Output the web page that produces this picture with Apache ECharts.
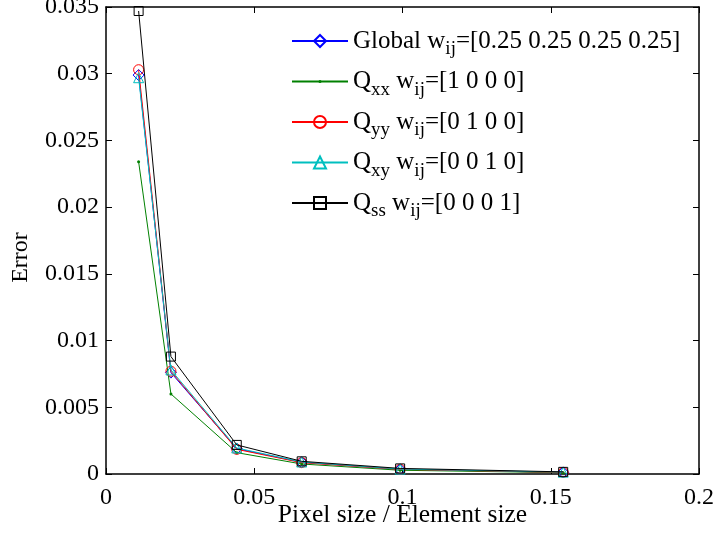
<!DOCTYPE html>
<html>
<head>
<meta charset="utf-8">
<script src="https://cdn.jsdelivr.net/npm/echarts@6/dist/echarts.min.js"></script>
<style>
  html, body { margin: 0; padding: 0; background: #fff; }
  #chart { width: 716px; height: 539px; }
</style>
</head>
<body>
<div id="chart"></div>
<script>
// Pixel size / element size ratios at which the error was evaluated
const pixelRatio = [0.011, 0.0219, 0.0441, 0.066, 0.0992, 0.1542];

// Error for each weighting of the strain components
const globalErr = [0.0299, 0.0076, 0.0019, 0.00088, 0.00035, 0.00012];
const qxxErr    = [0.0234, 0.0060, 0.0016, 0.00075, 0.00028, 0.00010];
const qyyErr    = [0.0303, 0.0077, 0.00185, 0.00085, 0.00035, 0.00012];
const qxyErr    = [0.0297, 0.0078, 0.00195, 0.00090, 0.00037, 0.00014];
const qssErr    = [0.0347, 0.0088, 0.00218, 0.00095, 0.00042, 0.00016];

// Legend labels ({s|..} marks a subscript)
const seriesNames = [
  'Global w{s|ij}=[0.25 0.25 0.25 0.25]',
  'Q{s|xx} w{s|ij}=[1 0 0 0]',
  'Q{s|yy} w{s|ij}=[0 1 0 0]',
  'Q{s|xy} w{s|ij}=[0 0 1 0]',
  'Q{s|ss} w{s|ij}=[0 0 0 1]'
];

// Axis ticks
const xTicks = { min: 0, max: 0.2, interval: 0.05 };
const yTicks = { min: 0, max: 0.035, interval: 0.005 };

const FONT = 'Liberation Serif';

// small filled dot inside a larger invisible box, so it stays small when scaled
const dotPath = 'path://M0 0M12 12M6 4.5A1.5 1.5 0 1 1 6 7.5A1.5 1.5 0 1 1 6 4.5Z';

const styles = [
  { color: '#0000ff', symbol: 'diamond', size: 11, hollow: true },
  { color: '#008000', symbol: dotPath, size: 12, hollow: false },
  { color: '#ff0000', symbol: 'circle', size: 10, hollow: true },
  { color: '#00bfbf', symbol: 'triangle', size: 10, hollow: true },
  { color: '#000000', symbol: 'rect', size: 9, hollow: true }
];

const values = [globalErr, qxxErr, qyyErr, qxyErr, qssErr];

const series = values.map((vals, k) => {
  const st = styles[k];
  return {
    name: seriesNames[k],
    type: 'line',
    data: pixelRatio.map((x, i) => [x, vals[i]]),
    symbol: st.symbol,
    symbolSize: st.size,
    showAllSymbol: true,
    lineStyle: { color: st.color, width: 1 },
    itemStyle: st.hollow
      ? { color: 'rgba(0,0,0,0)', borderColor: st.color, borderWidth: 1 }
      : { color: st.color, borderWidth: 0 },
    emphasis: { disabled: true },
    z: 2 + k
  };
});

const axisCommon = {
  axisLine: { show: true, onZero: false, lineStyle: { color: '#000', width: 1.5 } },
  axisTick: { show: true, inside: true, length: 6, lineStyle: { color: '#000', width: 1 } },
  splitLine: { show: false },
  nameMoveOverlap: false
};

const chart = echarts.init(document.getElementById('chart'), null, { renderer: 'canvas' });
chart.setOption({
  animation: false,
  backgroundColor: '#fff',
  grid: { left: 106, right: 17, top: 7, bottom: 65, containLabel: false, outerBoundsMode: 'none' },
  legend: {
    orient: 'vertical',
    left: 286,
    top: 18,
    padding: 5,
    itemWidth: 56,
    itemHeight: 15,
    itemGap: 4.5,
    selectedMode: false,
    data: seriesNames,
    formatter: (name) => name,
    textStyle: {
      fontFamily: FONT,
      fontSize: 25,
      lineHeight: 30,
      color: '#000',
      rich: {
        s: { fontFamily: FONT, fontSize: 19, lineHeight: 30, padding: [17, 0, 0, 0], color: '#000' }
      }
    }
  },
  xAxis: [
    Object.assign({
      type: 'value',
      position: 'bottom',
      min: xTicks.min, max: xTicks.max, interval: xTicks.interval,
      name: 'Pixel size / Element size',
      nameLocation: 'middle',
      nameGap: 28,
      nameTextStyle: { fontFamily: FONT, fontSize: 25.5, color: '#000' },
      axisLabel: { fontFamily: FONT, fontSize: 24, color: '#000', margin: 12 }
    }, axisCommon),
    Object.assign({
      type: 'value',
      position: 'top',
      min: xTicks.min, max: xTicks.max, interval: xTicks.interval,
      axisLabel: { show: false }
    }, axisCommon)
  ],
  yAxis: [
    Object.assign({
      type: 'value',
      position: 'left',
      min: yTicks.min, max: yTicks.max, interval: yTicks.interval,
      name: 'Error',
      nameLocation: 'middle',
      nameGap: 73,
      nameTextStyle: { fontFamily: FONT, fontSize: 24, color: '#000', padding: [0, 34, 0, 0] },
      axisLabel: { fontFamily: FONT, fontSize: 24, color: '#000', margin: 7 }
    }, axisCommon),
    Object.assign({
      type: 'value',
      position: 'right',
      min: yTicks.min, max: yTicks.max, interval: yTicks.interval,
      axisLabel: { show: false }
    }, axisCommon)
  ],
  series: series
});
</script>
</body>
</html>
